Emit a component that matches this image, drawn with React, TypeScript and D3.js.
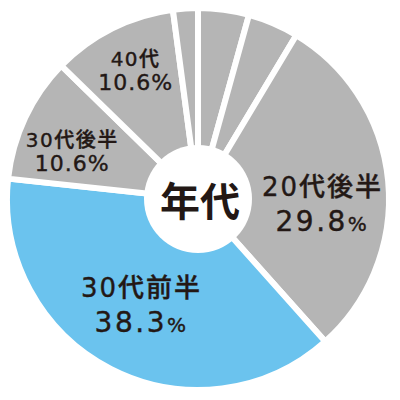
import React from 'react';
import * as d3 from 'd3';

// slices clockwise from 12 o'clock
const categories = ['20代前半A', '20代前半B', '20代後半', '30代前半', '30代後半', '40代', 'その他'];
const shares = [4.3, 4.3, 29.8, 38.3, 10.6, 10.6, 2.1];
const shownLabels = ['', '', '20代後半', '30代前半', '30代後半', '40代', ''];
const highlighted = '30代前半';
const centerTitle = '年代';

// layout tweaks per label (px nudges from the arc centroid)
const labelNudge: Record<string, [number, number]> = {
  '20代後半': [-3, 16],
  '30代前半': [2, -9],
  '30代後半': [-10, 6],
  '40代': [-5, -15],
};

const W = 400;
const H = 400;
const cx = 198;
const cy = 199;
const R = 191;
const innerR = 54;
const textColor = '#231815';
const font = '"Noto Sans CJK JP", "Noto Sans", sans-serif';
const labelFont = '"DejaVu Sans", "Noto Sans CJK JP", sans-serif';

interface Slice {
  name: string;
  value: number;
  label: string;
}

const data: Slice[] = categories.map((c, i) => ({ name: c, value: shares[i], label: shownLabels[i] }));

const App: React.FC = () => {
  const pie = d3.pie<Slice>().sort(null).value(d => d.value);
  const arcs = pie(data);
  const arc = d3.arc<d3.PieArcDatum<Slice>>().innerRadius(0).outerRadius(R);
  const labelArc = d3.arc<d3.PieArcDatum<Slice>>().innerRadius(128).outerRadius(128);

  return (
    <div style={{ position: 'absolute', left: 0, top: 0 }}>
      <svg width={W} height={H} style={{ display: 'block' }}>
        <rect width={W} height={H} fill="#fff" />
        <g transform={`translate(${cx},${cy})`}>
          {arcs.map(a => (
            <path
              key={a.data.name}
              d={arc(a) || ''}
              fill={a.data.name === highlighted ? '#6bc3ee' : '#b5b5b5'}
              stroke="#fff"
              strokeWidth={6}
              strokeLinejoin="round"
            />
          ))}
          <circle r={innerR} fill="#fff" />
          <text
            x={2}
            y={17}
            textAnchor="middle"
            fontFamily={font}
            fontWeight={700}
            fontSize={40}
            fill={textColor}
          >
            {centerTitle}
          </text>
          {arcs.filter(a => a.data.label).map(a => {
            const [lx, ly] = labelArc.centroid(a);
            const nudge = labelNudge[a.data.label] || [0, 0];
            const x = lx + nudge[0];
            const y = ly + nudge[1];
            const big = a.data.value > 20;
            return (
              <text
                key={a.data.name}
                textAnchor="middle"
                fontFamily={labelFont}
                fontWeight={500}
                fill={textColor}
                stroke={textColor}
                strokeWidth={0.4}
              >
                <tspan x={x} y={y + (big ? -7 : -4)} fontSize={big ? 26 : 20} letterSpacing={big ? 2 : 1.5}>
                  {a.data.label}
                </tspan>
                <tspan x={x} y={y + (big ? 28 : 20)} fontSize={big ? 28 : 22} letterSpacing={big ? 2.5 : 1}>
                  {d3.format('.1f')(a.data.value)}
                  <tspan fontSize={big ? 20 : 22}>%</tspan>
                </tspan>
              </text>
            );
          })}
        </g>
      </svg>
    </div>
  );
};

export default App;
